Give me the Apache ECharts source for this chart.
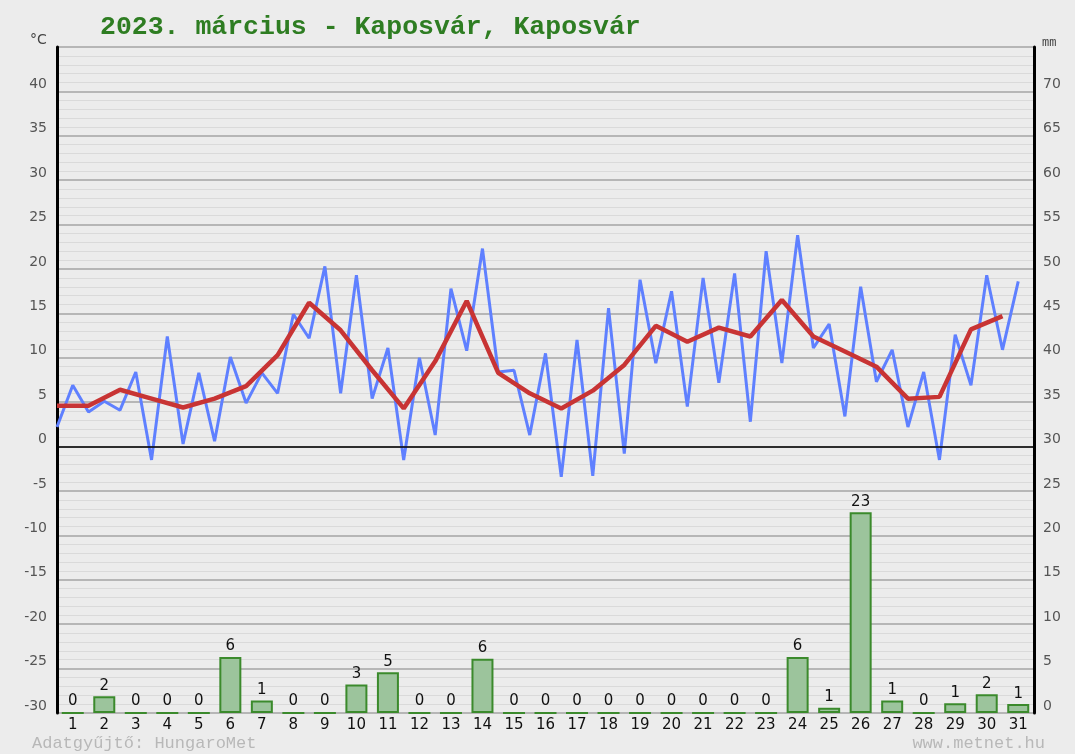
<!DOCTYPE html>
<html>
<head>
<meta charset="utf-8">
<script src="https://cdn.jsdelivr.net/npm/echarts@6/dist/echarts.min.js"></script>
<style>
  html, body { margin: 0; padding: 0; background: #ececec; }
  #chart { width: 1075px; height: 754px; }
</style>
</head>
<body>
<div id="chart"></div>
<script>
// ==============================================
// ADATOK - 2023. március, Kaposvár
// ==============================================

const napok = ['1','2','3','4','5','6','7','8','9','10','11','12','13','14','15','16','17','18','19','20','21','22','23','24','25','26','27','28','29','30','31'];

// napi minimum / maximum hőmérséklet (°C)
const tMin = [2.2, 3.9, 4.1, -1.5, 0.3, 0.6, 4.9, 6.0, 12.2, 6.0, 5.4, -1.5, 1.3, 10.8, 8.4, 1.3, -3.4, -3.3, -0.8, 9.4, 4.5, 7.2, 2.8, 9.4, 11.1, 3.4, 7.3, 2.2, -1.5, 6.9, 10.9];
const tMax = [6.9, 5.1, 8.4, 12.4, 8.3, 10.1, 8.3, 14.9, 20.3, 19.3, 11.1, 10.0, 17.8, 22.3, 8.6, 10.5, 12.0, 15.6, 18.8, 17.5, 19.0, 19.5, 22.0, 23.8, 13.8, 18.0, 10.9, 8.4, 12.6, 19.3, 18.6];

// napi középhőmérséklet (°C)
const tKozep = [4.6, 4.6, 6.4, 5.4, 4.4, 5.4, 6.8, 10.3, 16.2, 13.1, 8.6, 4.3, 9.6, 16.4, 8.3, 6.0, 4.3, 6.3, 9.2, 13.6, 11.8, 13.4, 12.4, 16.5, 12.4, 10.7, 9.0, 5.4, 5.6, 13.2, 14.7];

// csapadék (mm)
const csapadek = [0, 1.9, 0, 0, 0, 6.3, 1.4, 0, 0, 3.2, 4.6, 0, 0, 6.1, 0, 0, 0, 0, 0, 0, 0, 0, 0, 6.3, 0.6, 22.6, 1.4, 0, 1.1, 2.1, 1.0];

// ==============================================
// SOROZATOK ÖSSZEÁLLÍTÁSA
// ==============================================

// min a nap elején, max a nap közepén
const minMaxPontok = [];
tMin.forEach((v, i) => {
    minMaxPontok.push([i, v]);
    minMaxPontok.push([i + 0.5, tMax[i]]);
});
const kozepPontok = tKozep.map((v, i) => [i, v]);

const chart = echarts.init(document.getElementById('chart'));

chart.setOption({
    backgroundColor: '#ececec',
    animation: false,
    grid: { left: 57, right: 41, top: 47, bottom: 41 },
    graphic: [
        { type: 'text', left: 100, top: 14, style: { text: '2023. március - Kaposvár, Kaposvár', fill: '#2e7d22', font: 'bold 26.5px "Liberation Mono", monospace' } },
        { type: 'text', left: 30, top: 33, style: { text: '°C', fill: '#444', font: '14px "DejaVu Sans", sans-serif' } },
        { type: 'text', left: 1042, top: 37, style: { text: 'mm', fill: '#444', font: '12px "Liberation Mono", monospace' } },
        { type: 'text', left: 32, top: 735, style: { text: 'Adatgyűjtő: HungaroMet', fill: '#b8b8b8', font: '17px "Liberation Mono", monospace' } },
        { type: 'text', right: 30, top: 735, style: { text: 'www.metnet.hu', fill: '#b8b8b8', font: '17px "Liberation Mono", monospace' } }
    ],
    xAxis: [
        {
            type: 'category', data: napok, boundaryGap: true,
            axisLine: { show: false }, axisTick: { show: false },
            axisLabel: { color: '#111', fontSize: 15, fontFamily: 'DejaVu Sans', margin: 5 }
        },
        { type: 'value', min: 0, max: 31, show: false }
    ],
    yAxis: [
        {
            type: 'value', min: -30, max: 45, interval: 5,
            axisLine: { show: true, onZero: false, lineStyle: { color: '#000', width: 3 } },
            axisTick: { show: false },
            axisLabel: {
                color: '#555', fontSize: 14, fontFamily: 'DejaVu Sans', margin: 10, verticalAlign: 'bottom',
                formatter: v => (v === 45 ? '' : String(v))
            },
            splitLine: { show: true, lineStyle: { color: '#a4a4a4', width: 1.5 } },
            minorTick: { show: false, splitNumber: 5 },
            minorSplitLine: { show: true, lineStyle: { color: '#dadada', width: 1.2 } }
        },
        {
            type: 'value', min: 0, max: 75, interval: 5, position: 'right',
            axisLine: { show: true, onZero: false, lineStyle: { color: '#000', width: 3 } },
            axisTick: { show: false },
            axisLabel: {
                color: '#555', fontSize: 14, fontFamily: 'DejaVu Sans', margin: 9, verticalAlign: 'bottom',
                formatter: v => (v === 75 ? '' : String(v))
            },
            splitLine: { show: false }
        }
    ],
    series: [
        {
            name: 'csapadék', type: 'bar', xAxisIndex: 0, yAxisIndex: 1,
            data: csapadek, barWidth: 22,
            itemStyle: { color: '#9cc49c', borderColor: '#3b8a2c', borderWidth: 2 },
            label: {
                show: true, position: 'top', distance: 3, color: '#111', fontSize: 15, fontFamily: 'DejaVu Sans',
                formatter: p => String(Math.round(p.value))
            },
            z: 2
        },
        {
            name: 'min/max', type: 'line', xAxisIndex: 1, yAxisIndex: 0,
            data: minMaxPontok, symbol: 'none',
            lineStyle: { color: '#5f80ff', width: 3 },
            markLine: {
                silent: true, symbol: 'none', label: { show: false },
                lineStyle: { color: '#000', width: 1.5, type: 'solid' },
                data: [{ yAxis: 0 }]
            },
            z: 3
        },
        {
            name: 'közép', type: 'line', xAxisIndex: 1, yAxisIndex: 0,
            data: kozepPontok, symbol: 'none',
            lineStyle: { color: '#c83434', width: 4.5 },
            z: 4
        }
    ]
});
</script>
</body>
</html>
